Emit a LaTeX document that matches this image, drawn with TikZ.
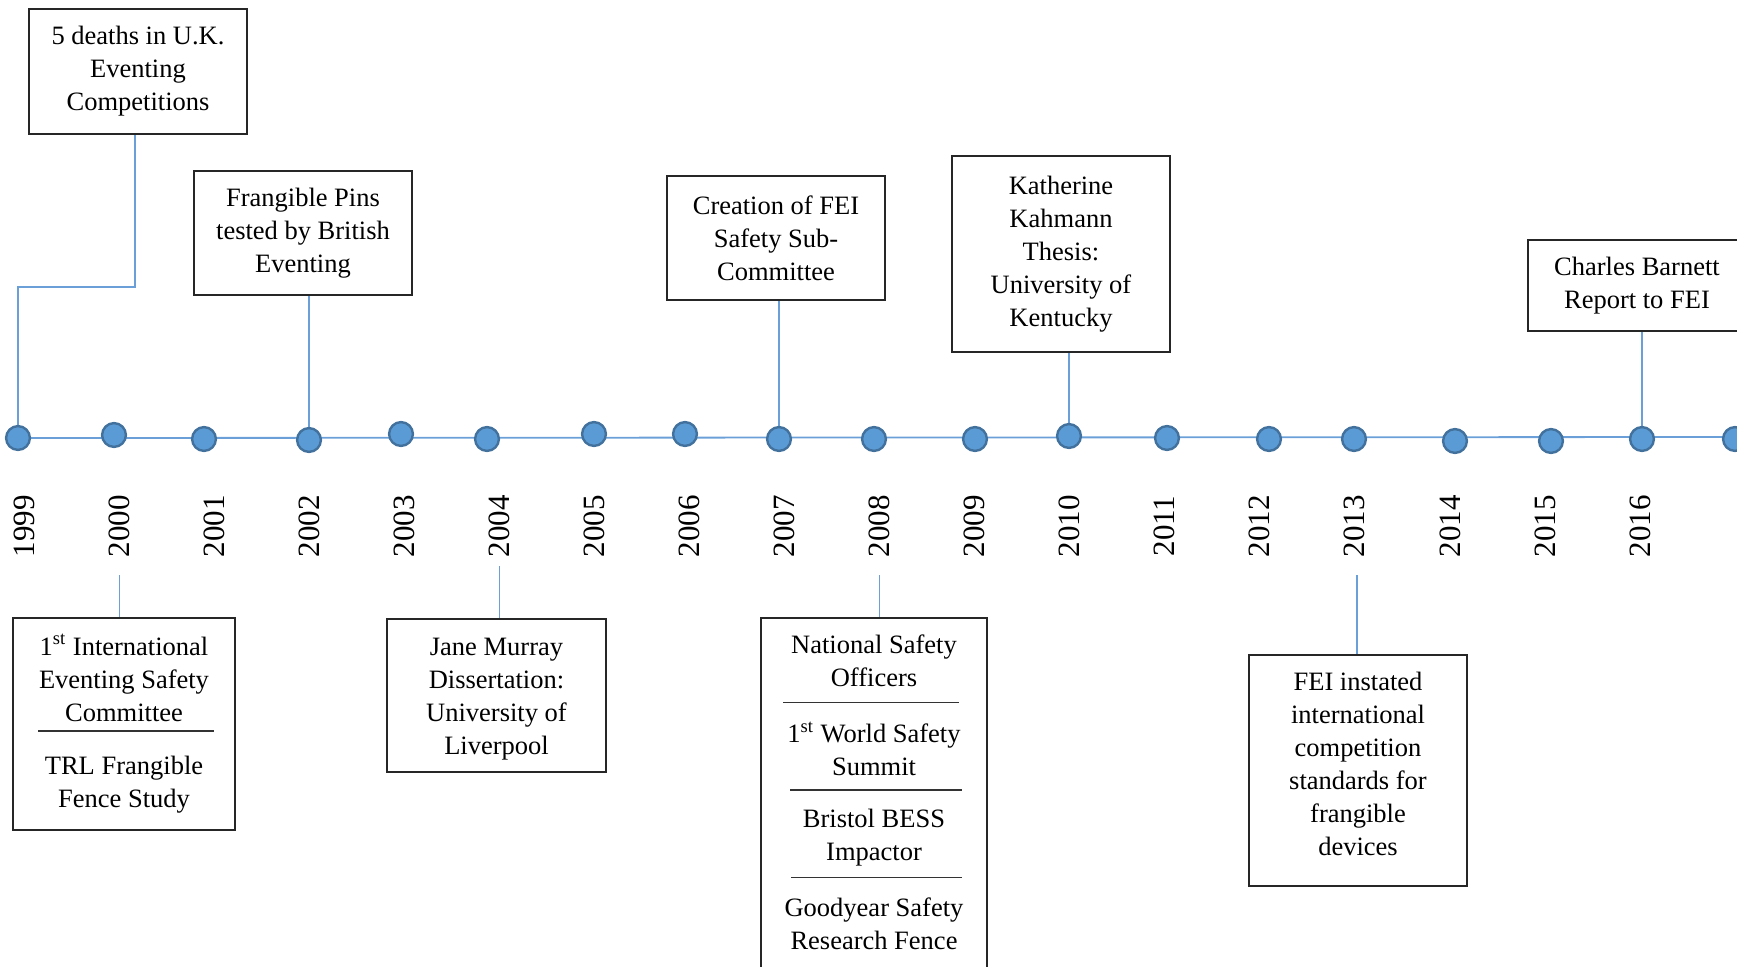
\documentclass[tikz,border=0pt]{standalone}
\usepackage{fontspec}
\setmainfont{Liberation Serif}
\definecolor{dotblue}{HTML}{5B9BD5}
\definecolor{dotedge}{HTML}{41719C}
\definecolor{linkblue}{HTML}{6A9FD8}
\pgfdeclarelayer{bg}
\pgfsetlayers{bg,main}

\begin{document}
\begin{tikzpicture}[x=0.5pt,y=-0.5pt,
  yeardot/.style={circle,fill=dotblue,draw=dotedge,line width=1.2pt,minimum size=11.9pt,inner sep=0pt},
  yearlabel/.style={rotate=90,inner sep=0pt,font=\fontsize{15.5}{18}\selectfont},
  eventbox/.style={draw=black!85,line width=0.75pt,minimum width=109pt,inner sep=0pt,align=center,font=\fontsize{13.25}{16.5}\selectfont},
  boxtext/.style={align=center,inner sep=0pt,font=\fontsize{13.25}{16.5}\selectfont},
  link/.style={draw=linkblue,line width=0.7pt},
  divider/.style={draw=black!80,line width=0.7pt}]

  \useasboundingbox (0,0) rectangle (1737,966);
  \clip (0,0) rectangle (1737,966);

  % dots on the line
  \foreach \yr/\px/\py in {1999/18/438,2000/114/435,2001/204/439,2002/309/440,2003/401/434,2004/487/439,
    2005/594/434,2006/685/434,2007/779/439,2008/874/439,2009/975/439,2010/1069/436,2011/1167/438,
    2012/1269/439,2013/1354/439,2014/1455/441,2015/1551/441,2016/1642/439}
    \node[yeardot] (d\yr) at (\px,\py) {};
  \node[yeardot] (dnext) at (1735,439) {};
  \coordinate (lineend) at (1737,437);

  % years, evenly spaced
  \foreach \yr [count=\i from 0] in {1999,...,2016}
    \node[yearlabel] (y\yr) at (24.4+95.03*\i,526) {\yr};

  % boxes above
  \node[eventbox,minimum height=62.5pt] (deaths) at (138,71.5) {5 deaths in U.K.\\Eventing\\Competitions};
  \node[eventbox,minimum height=62pt] (pins) at (303,233) {Frangible Pins\\tested by British\\Eventing};
  \node[eventbox,minimum height=62pt] (subcom) at (776,238) {Creation of FEI\\Safety Sub-\\Committee};
  \node[eventbox,minimum height=98pt] (kahmann) at (1061,254) {Katherine\\Kahmann\\Thesis:\\University of\\Kentucky};
  \node[eventbox,minimum height=45.5pt] (barnett) at (1637,285.5) {Charles Barnett\\Report to FEI};

  % boxes below
  \node[eventbox,minimum width=111pt,minimum height=106pt] (imsc) at (124,724) {};
  \node[boxtext] (imsc1) at (124,678) {1\textsuperscript{st} International\\Eventing Safety\\Committee};
  \node[boxtext] (imsc2) at (124,784.5) {TRL Frangible\\Fence Study};
  \draw[divider] (38,731) -- (214,731);

  \node[eventbox,minimum width=109.5pt,minimum height=76.5pt] (murray) at (496.5,695.5) {};
  \node[boxtext] (murray1) at (496.5,699.5) {Jane Murray\\Dissertation:\\University of\\Liverpool};

  \node[eventbox,minimum width=113pt,minimum height=191pt] (summit) at (874,809) {};
  \node[boxtext] (summit1) at (874,661) {National Safety\\Officers};
  \node[boxtext] (summit2) at (874,749) {1\textsuperscript{st} World Safety\\Summit};
  \node[boxtext] (summit3) at (874,838) {Bristol BESS\\Impactor};
  \node[boxtext] (summit4) at (874,924) {Goodyear Safety\\Research Fence};
  \draw[divider] (783,702.5) -- (959,702.5);
  \draw[divider] (790,790) -- (962,790);
  \draw[divider] (791,877.5) -- (962,877.5);

  \node[eventbox,minimum height=115.5pt] (standards) at (1358,770.5) {};
  \node[boxtext] (standards1) at (1358,764) {FEI instated\\international\\competition\\standards for\\frangible\\devices};

  \begin{pgfonlayer}{bg}
    \draw[link,line width=0.9pt] (d1999) -- (lineend);
    \draw[link] ([xshift=-1.5pt]deaths.south) |- ([yshift=69pt]d1999.north) -- (d1999.north);
    \draw[link] (pins.south -| d2002) -- (d2002.north);
    \draw[link] (subcom.south -| d2007) -- (d2007.north);
    \draw[link] (kahmann.south -| d2010) -- (d2010.north);
    \draw[link] (barnett.south -| d2016) -- (d2016.north);
    \draw[link,shorten <=9pt] (y2000.west) -- (imsc.north -| y2000);
    \draw[link,shorten <=4.5pt] (y2004.west) -- (murray.north -| y2004);
    \draw[link,shorten <=9pt] (y2008.west) -- (summit.north -| y2008);
    \draw[link,shorten <=9pt] ([xshift=1pt]y2013.west) -- ([xshift=1pt]standards.north -| y2013);
  \end{pgfonlayer}

\end{tikzpicture}
\end{document}
